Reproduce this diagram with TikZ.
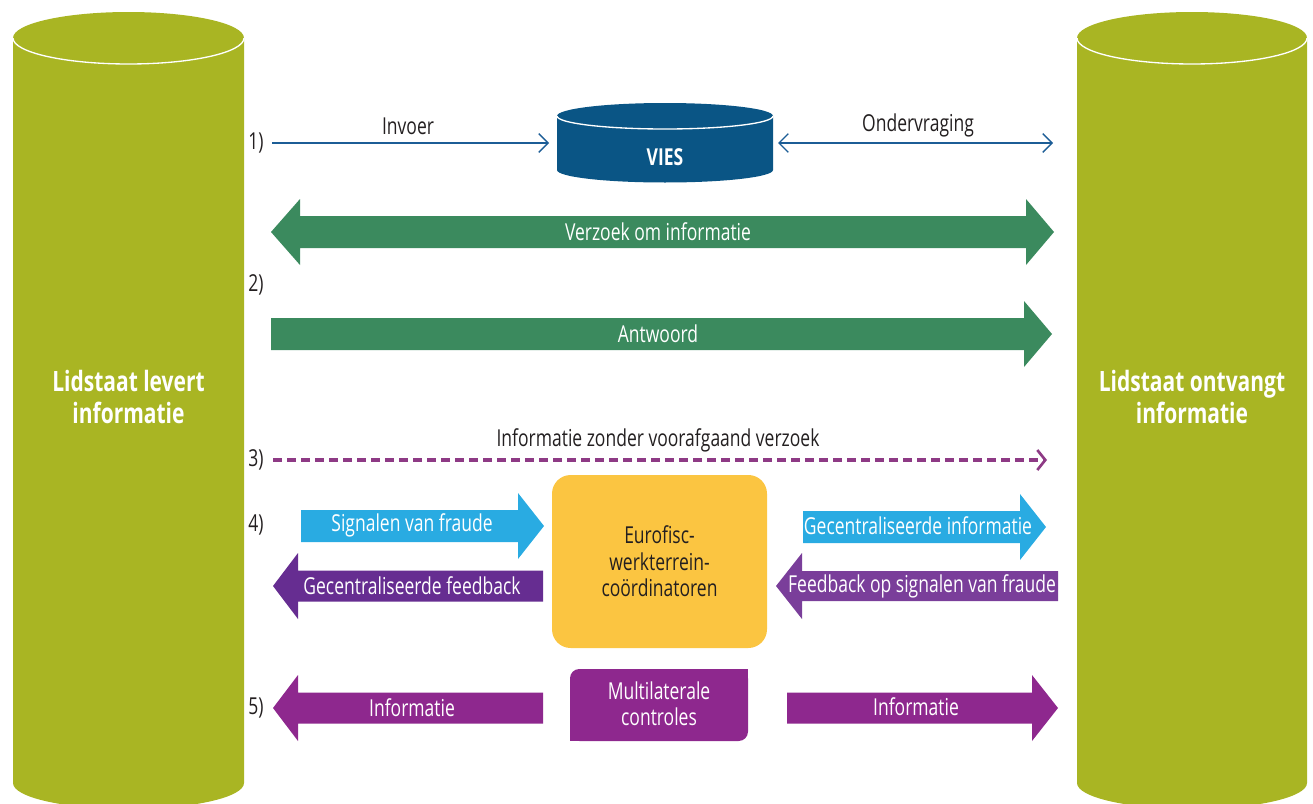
\documentclass[tikz,border=0pt]{standalone}
\usepackage{fontspec}
\setmainfont{Open Sans}[FakeStretch=0.75]
\usetikzlibrary{arrows.meta}
\definecolor{olive}{HTML}{A9B523}
\definecolor{viesblue}{HTML}{0A5585}
\definecolor{lineblue}{HTML}{1C5D96}
\definecolor{agreen}{HTML}{3B8A5E}
\definecolor{ablue}{HTML}{29ABE2}
\definecolor{pdark}{HTML}{662D91}
\definecolor{pmid}{HTML}{7A3E9A}
\definecolor{pmag}{HTML}{8E288E}
\definecolor{pdash}{HTML}{8E3A85}
\definecolor{ayellow}{HTML}{FBC541}
\definecolor{txt}{HTML}{231F20}
\newcommand\ShapeArrow[7]{% color, start x, head base x, tip x, centre y, half body, half head
  \fill[#1] (#2,{#5-#6}) -- (#3,{#5-#6}) -- (#3,{#5-#7}) -- (#4,#5) -- (#3,{#5+#7}) -- (#3,{#5+#6}) -- (#2,{#5+#6}) -- cycle;}
\tikzset{
  lbl/.style={text=txt, font=\fontsize{17.5}{19}\selectfont, inner sep=0pt},
  wlbl/.style={text=white, font=\fontsize{17.5}{19}\selectfont, inner sep=0pt},
  biglbl/.style={text=white, font=\bfseries\fontsize{21}{23.5}\selectfont, align=center, inner sep=0pt},
  thinarrow/.style={draw=lineblue, line width=1pt, {Straight Barb[length=7pt,width=14pt]}-{Straight Barb[length=7pt,width=14pt]}},
}
\begin{document}
\begin{tikzpicture}[x=0.75pt,y=-0.75pt]
\useasboundingbox (0,0) rectangle (1313,803);
% cylinders
\fill[olive] (13,38) -- (13,783) arc[start angle=180,end angle=0,x radius=115.5,y radius=26] -- (244,38) arc[start angle=0,end angle=-180,x radius=115.5,y radius=26] -- cycle;
\draw[white,line width=1pt] (13,38) arc[start angle=180,end angle=0,x radius=115.5,y radius=26];
\fill[olive] (1077,38) -- (1077,783) arc[start angle=180,end angle=0,x radius=115,y radius=26] -- (1307,38) arc[start angle=0,end angle=-180,x radius=115,y radius=26] -- cycle;
\draw[white,line width=1pt] (1077,38) arc[start angle=180,end angle=0,x radius=115,y radius=26];
\node[biglbl] (left) at (128.5,397) {Lidstaat levert\\informatie};
\node[biglbl] (right) at (1192,397) {Lidstaat ontvangt\\informatie};
% VIES
\fill[viesblue] (557,116) -- (557,170) arc[start angle=180,end angle=0,x radius=108,y radius=12.5] -- (773,116) arc[start angle=0,end angle=-180,x radius=108,y radius=13] -- cycle;
\draw[white,line width=1pt] (557,116) arc[start angle=180,end angle=0,x radius=108,y radius=13];
\node[text=white, font=\bfseries\fontsize{17.5}{19}\selectfont, inner sep=0pt] (vies) at (665,157) {VIES};
\coordinate (viesL) at (549,143);
\coordinate (viesR) at (778,143);
\coordinate (in1) at (272,143);
\coordinate (out1) at (1053,143);
% row numbers
\node[lbl] (n1) at (256,143) {1)};
\node[lbl] (n2) at (256,285) {2)};
\node[lbl] (n3) at (256,460) {3)};
\node[lbl] (n4) at (256,525) {4)};
\node[lbl] (n5) at (256,708) {5)};
% 1)
\draw[draw=lineblue, line width=1pt, -{Straight Barb[length=7pt,width=14pt]}] (in1) -- (viesL);
\draw[thinarrow] (viesR) -- (out1);
\node[lbl] (invoer) at (408,126) {Invoer};
\node[lbl] (onder) at (918,125) {Ondervraging};
% 2) green double arrow
\fill[agreen] (271,232) -- (300,199) -- (300,216) -- (1026,216) -- (1026,199) -- (1054,232) -- (1026,265) -- (1026,248) -- (300,248) -- (300,265) -- cycle;
\node[wlbl] (verz) at (658,232) {Verzoek om informatie};
\ShapeArrow{agreen}{271}{1024}{1052}{334}{16}{33}
\node[wlbl] (antw) at (658,334) {Antwoord};
% 3) dashed
\coordinate (d1) at (273,460);
\coordinate (d2) at (1047,460);
\draw[pdash, line width=3pt, dash pattern=on 7pt off 3.5pt, -{Straight Barb[length=6pt,width=15pt,line width=2pt]}] (d1) -- (d2);
\node[lbl] (zonder) at (658,440) {Informatie zonder voorafgaand verzoek};
% 4) Eurofisc
\node[fill=ayellow, rounded corners=14pt, minimum width=161.25pt, minimum height=129.75pt, text=txt, align=center, font=\fontsize{17.5}{20}\selectfont, inner sep=0pt] (euro) at (659.5,561.5) {Eurofisc-\\werkterrein-\\coördinatoren};
\ShapeArrow{ablue}{301}{518}{544}{526}{16}{33}
\node[wlbl] (sig) at (412,525) {Signalen van fraude};
\ShapeArrow{pdark}{543}{298}{273}{586}{15.5}{33}
\node[wlbl] (gfeed) at (412,586) {Gecentraliseerde feedback};
\ShapeArrow{ablue}{803}{1020}{1046}{527}{16}{33}
\node[wlbl] (ginfo) at (918,526) {Gecentraliseerde informatie};
\ShapeArrow{pmid}{1058}{802}{776}{586}{15}{33}
\node[wlbl] (fsig) at (922,586) {Feedback op signalen van fraude};
% 5) multilateral
\fill[pmag, rounded corners=7pt] (570,669) rectangle (748,741);
\fill[pmag] (730,669) rectangle (748,690);
\fill[pmag] (570,722) rectangle (590,741);
\node[text=white, align=center, font=\fontsize{17.5}{19.5}\selectfont, inner sep=0pt] (multi) at (659,704) {Multilaterale\\controles};
\ShapeArrow{pmag}{543}{298}{273}{708}{15.5}{33}
\node[wlbl] (inf1) at (412,708) {Informatie};
\ShapeArrow{pmag}{787}{1032}{1058}{708}{15.5}{33}
\node[wlbl] (inf2) at (916,707) {Informatie};
\end{tikzpicture}
\end{document}
